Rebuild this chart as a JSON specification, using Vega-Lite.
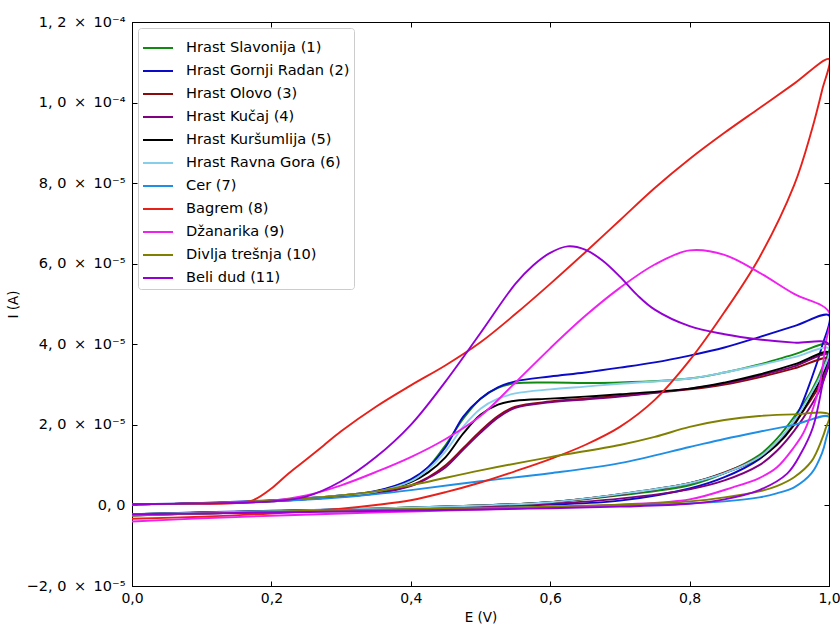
{
"$schema": "https://vega.github.io/schema/vega-lite/v6.json",
"width": 697,
"height": 564,
"autosize": {"type": "none"},
"padding": {"left": 132, "top": 22, "right": 11, "bottom": 40},
"background": "white",
"config": {
  "font": "DejaVu Sans",
  "view": {"stroke": "black", "strokeWidth": 1},
  "axis": {"grid": false, "domainColor": "black", "tickColor": "black", "labelColor": "black", "titleColor": "black", "labelFont": "DejaVu Sans", "titleFont": "DejaVu Sans", "labelFontSize": 14, "titleFontSize": 13.5, "titleFontWeight": "normal", "tickSize": -5, "tickWidth": 1, "domainWidth": 1},
  "legend": {"labelFont": "DejaVu Sans", "labelFontSize": 14.6, "labelColor": "black"}
},
"data": {"values": [
{"s":"Hrast Slavonija (1)","E":0,"I":0.03e-5,"k":0},{"s":"Hrast Slavonija (1)","E":0.1,"I":0.05e-5,"k":1},{"s":"Hrast Slavonija (1)","E":0.2,"I":0.12e-5,"k":2},{"s":"Hrast Slavonija (1)","E":0.3,"I":0.25e-5,"k":3},{"s":"Hrast Slavonija (1)","E":0.35,"I":0.35e-5,"k":4},{"s":"Hrast Slavonija (1)","E":0.4,"I":0.62e-5,"k":5},{"s":"Hrast Slavonija (1)","E":0.425,"I":0.95e-5,"k":6},{"s":"Hrast Slavonija (1)","E":0.45,"I":1.5e-5,"k":7},{"s":"Hrast Slavonija (1)","E":0.475,"I":2.15e-5,"k":8},{"s":"Hrast Slavonija (1)","E":0.5,"I":2.65e-5,"k":9},{"s":"Hrast Slavonija (1)","E":0.525,"I":2.92e-5,"k":10},{"s":"Hrast Slavonija (1)","E":0.55,"I":3.03e-5,"k":11},{"s":"Hrast Slavonija (1)","E":0.6,"I":3.05e-5,"k":12},{"s":"Hrast Slavonija (1)","E":0.65,"I":3.04e-5,"k":13},{"s":"Hrast Slavonija (1)","E":0.7,"I":3.05e-5,"k":14},{"s":"Hrast Slavonija (1)","E":0.8,"I":3.15e-5,"k":15},{"s":"Hrast Slavonija (1)","E":0.85,"I":3.3e-5,"k":16},{"s":"Hrast Slavonija (1)","E":0.9,"I":3.5e-5,"k":17},{"s":"Hrast Slavonija (1)","E":0.95,"I":3.75e-5,"k":18},{"s":"Hrast Slavonija (1)","E":1.0,"I":4.0e-5,"k":19},
{"s":"Hrast Slavonija (1)","E":0.99,"I":3.4e-5,"k":20},{"s":"Hrast Slavonija (1)","E":0.975,"I":2.85e-5,"k":21},{"s":"Hrast Slavonija (1)","E":0.95,"I":2.2e-5,"k":22},{"s":"Hrast Slavonija (1)","E":0.925,"I":1.65e-5,"k":23},{"s":"Hrast Slavonija (1)","E":0.9,"I":1.25e-5,"k":24},{"s":"Hrast Slavonija (1)","E":0.85,"I":0.8e-5,"k":25},{"s":"Hrast Slavonija (1)","E":0.8,"I":0.5e-5,"k":26},{"s":"Hrast Slavonija (1)","E":0.7,"I":0.25e-5,"k":27},{"s":"Hrast Slavonija (1)","E":0.6,"I":0.08e-5,"k":28},{"s":"Hrast Slavonija (1)","E":0.5,"I":0.0,"k":29},{"s":"Hrast Slavonija (1)","E":0.4,"I":-0.05e-5,"k":30},{"s":"Hrast Slavonija (1)","E":0.3,"I":-0.1e-5,"k":31},{"s":"Hrast Slavonija (1)","E":0.1,"I":-0.18e-5,"k":32},{"s":"Hrast Slavonija (1)","E":0,"I":-0.22e-5,"k":33},

{"s":"Hrast Gornji Radan (2)","E":0,"I":0.03e-5,"k":0},{"s":"Hrast Gornji Radan (2)","E":0.1,"I":0.06e-5,"k":1},{"s":"Hrast Gornji Radan (2)","E":0.2,"I":0.13e-5,"k":2},{"s":"Hrast Gornji Radan (2)","E":0.3,"I":0.25e-5,"k":3},{"s":"Hrast Gornji Radan (2)","E":0.35,"I":0.36e-5,"k":4},{"s":"Hrast Gornji Radan (2)","E":0.4,"I":0.65e-5,"k":5},{"s":"Hrast Gornji Radan (2)","E":0.425,"I":0.95e-5,"k":6},{"s":"Hrast Gornji Radan (2)","E":0.45,"I":1.45e-5,"k":7},{"s":"Hrast Gornji Radan (2)","E":0.475,"I":2.2e-5,"k":8},{"s":"Hrast Gornji Radan (2)","E":0.5,"I":2.65e-5,"k":9},{"s":"Hrast Gornji Radan (2)","E":0.525,"I":2.93e-5,"k":10},{"s":"Hrast Gornji Radan (2)","E":0.55,"I":3.08e-5,"k":11},{"s":"Hrast Gornji Radan (2)","E":0.6,"I":3.2e-5,"k":12},{"s":"Hrast Gornji Radan (2)","E":0.65,"I":3.3e-5,"k":13},{"s":"Hrast Gornji Radan (2)","E":0.7,"I":3.42e-5,"k":14},{"s":"Hrast Gornji Radan (2)","E":0.75,"I":3.55e-5,"k":15},{"s":"Hrast Gornji Radan (2)","E":0.8,"I":3.72e-5,"k":16},{"s":"Hrast Gornji Radan (2)","E":0.85,"I":3.92e-5,"k":17},{"s":"Hrast Gornji Radan (2)","E":0.9,"I":4.18e-5,"k":18},{"s":"Hrast Gornji Radan (2)","E":0.95,"I":4.45e-5,"k":19},{"s":"Hrast Gornji Radan (2)","E":1.0,"I":4.72e-5,"k":20},
{"s":"Hrast Gornji Radan (2)","E":0.99,"I":3.95e-5,"k":21},{"s":"Hrast Gornji Radan (2)","E":0.975,"I":3.15e-5,"k":22},{"s":"Hrast Gornji Radan (2)","E":0.95,"I":2.1e-5,"k":23},{"s":"Hrast Gornji Radan (2)","E":0.925,"I":1.55e-5,"k":24},{"s":"Hrast Gornji Radan (2)","E":0.9,"I":1.15e-5,"k":25},{"s":"Hrast Gornji Radan (2)","E":0.85,"I":0.7e-5,"k":26},{"s":"Hrast Gornji Radan (2)","E":0.8,"I":0.42e-5,"k":27},{"s":"Hrast Gornji Radan (2)","E":0.7,"I":0.12e-5,"k":28},{"s":"Hrast Gornji Radan (2)","E":0.6,"I":0.02e-5,"k":29},{"s":"Hrast Gornji Radan (2)","E":0.5,"I":-0.03e-5,"k":30},{"s":"Hrast Gornji Radan (2)","E":0.4,"I":-0.07e-5,"k":31},{"s":"Hrast Gornji Radan (2)","E":0.3,"I":-0.1e-5,"k":32},{"s":"Hrast Gornji Radan (2)","E":0.1,"I":-0.17e-5,"k":33},{"s":"Hrast Gornji Radan (2)","E":0,"I":-0.22e-5,"k":34},

{"s":"Hrast Olovo (3)","E":0,"I":0.03e-5,"k":0},{"s":"Hrast Olovo (3)","E":0.1,"I":0.05e-5,"k":1},{"s":"Hrast Olovo (3)","E":0.2,"I":0.1e-5,"k":2},{"s":"Hrast Olovo (3)","E":0.3,"I":0.22e-5,"k":3},{"s":"Hrast Olovo (3)","E":0.35,"I":0.3e-5,"k":4},{"s":"Hrast Olovo (3)","E":0.4,"I":0.5e-5,"k":5},{"s":"Hrast Olovo (3)","E":0.425,"I":0.7e-5,"k":6},{"s":"Hrast Olovo (3)","E":0.45,"I":1.0e-5,"k":7},{"s":"Hrast Olovo (3)","E":0.475,"I":1.42e-5,"k":8},{"s":"Hrast Olovo (3)","E":0.5,"I":1.85e-5,"k":9},{"s":"Hrast Olovo (3)","E":0.525,"I":2.22e-5,"k":10},{"s":"Hrast Olovo (3)","E":0.55,"I":2.45e-5,"k":11},{"s":"Hrast Olovo (3)","E":0.6,"I":2.58e-5,"k":12},{"s":"Hrast Olovo (3)","E":0.65,"I":2.65e-5,"k":13},{"s":"Hrast Olovo (3)","E":0.7,"I":2.72e-5,"k":14},{"s":"Hrast Olovo (3)","E":0.8,"I":2.88e-5,"k":15},{"s":"Hrast Olovo (3)","E":0.85,"I":3.0e-5,"k":16},{"s":"Hrast Olovo (3)","E":0.9,"I":3.18e-5,"k":17},{"s":"Hrast Olovo (3)","E":0.95,"I":3.4e-5,"k":18},{"s":"Hrast Olovo (3)","E":1.0,"I":3.65e-5,"k":19},
{"s":"Hrast Olovo (3)","E":0.99,"I":3.1e-5,"k":20},{"s":"Hrast Olovo (3)","E":0.975,"I":2.65e-5,"k":21},{"s":"Hrast Olovo (3)","E":0.95,"I":2.05e-5,"k":22},{"s":"Hrast Olovo (3)","E":0.925,"I":1.55e-5,"k":23},{"s":"Hrast Olovo (3)","E":0.9,"I":1.2e-5,"k":24},{"s":"Hrast Olovo (3)","E":0.85,"I":0.82e-5,"k":25},{"s":"Hrast Olovo (3)","E":0.8,"I":0.55e-5,"k":26},{"s":"Hrast Olovo (3)","E":0.7,"I":0.27e-5,"k":27},{"s":"Hrast Olovo (3)","E":0.6,"I":0.08e-5,"k":28},{"s":"Hrast Olovo (3)","E":0.5,"I":0.0,"k":29},{"s":"Hrast Olovo (3)","E":0.4,"I":-0.06e-5,"k":30},{"s":"Hrast Olovo (3)","E":0.3,"I":-0.12e-5,"k":31},{"s":"Hrast Olovo (3)","E":0.1,"I":-0.2e-5,"k":32},{"s":"Hrast Olovo (3)","E":0,"I":-0.25e-5,"k":33},

{"s":"Hrast Kučaj (4)","E":0,"I":0.03e-5,"k":0},{"s":"Hrast Kučaj (4)","E":0.1,"I":0.05e-5,"k":1},{"s":"Hrast Kučaj (4)","E":0.2,"I":0.1e-5,"k":2},{"s":"Hrast Kučaj (4)","E":0.3,"I":0.22e-5,"k":3},{"s":"Hrast Kučaj (4)","E":0.35,"I":0.3e-5,"k":4},{"s":"Hrast Kučaj (4)","E":0.4,"I":0.48e-5,"k":5},{"s":"Hrast Kučaj (4)","E":0.425,"I":0.68e-5,"k":6},{"s":"Hrast Kučaj (4)","E":0.45,"I":0.95e-5,"k":7},{"s":"Hrast Kučaj (4)","E":0.475,"I":1.38e-5,"k":8},{"s":"Hrast Kučaj (4)","E":0.5,"I":1.8e-5,"k":9},{"s":"Hrast Kučaj (4)","E":0.525,"I":2.18e-5,"k":10},{"s":"Hrast Kučaj (4)","E":0.55,"I":2.42e-5,"k":11},{"s":"Hrast Kučaj (4)","E":0.6,"I":2.56e-5,"k":12},{"s":"Hrast Kučaj (4)","E":0.65,"I":2.63e-5,"k":13},{"s":"Hrast Kučaj (4)","E":0.7,"I":2.7e-5,"k":14},{"s":"Hrast Kučaj (4)","E":0.8,"I":2.9e-5,"k":15},{"s":"Hrast Kučaj (4)","E":0.85,"I":3.03e-5,"k":16},{"s":"Hrast Kučaj (4)","E":0.9,"I":3.22e-5,"k":17},{"s":"Hrast Kučaj (4)","E":0.95,"I":3.45e-5,"k":18},{"s":"Hrast Kučaj (4)","E":1.0,"I":3.75e-5,"k":19},
{"s":"Hrast Kučaj (4)","E":0.99,"I":3.0e-5,"k":20},{"s":"Hrast Kučaj (4)","E":0.975,"I":2.5e-5,"k":21},{"s":"Hrast Kučaj (4)","E":0.95,"I":1.85e-5,"k":22},{"s":"Hrast Kučaj (4)","E":0.925,"I":1.35e-5,"k":23},{"s":"Hrast Kučaj (4)","E":0.9,"I":1.0e-5,"k":24},{"s":"Hrast Kučaj (4)","E":0.85,"I":0.62e-5,"k":25},{"s":"Hrast Kučaj (4)","E":0.8,"I":0.4e-5,"k":26},{"s":"Hrast Kučaj (4)","E":0.7,"I":0.17e-5,"k":27},{"s":"Hrast Kučaj (4)","E":0.6,"I":0.04e-5,"k":28},{"s":"Hrast Kučaj (4)","E":0.5,"I":-0.03e-5,"k":29},{"s":"Hrast Kučaj (4)","E":0.4,"I":-0.08e-5,"k":30},{"s":"Hrast Kučaj (4)","E":0.3,"I":-0.13e-5,"k":31},{"s":"Hrast Kučaj (4)","E":0.1,"I":-0.2e-5,"k":32},{"s":"Hrast Kučaj (4)","E":0,"I":-0.24e-5,"k":33},

{"s":"Hrast Kuršumlija (5)","E":0,"I":0.03e-5,"k":0},{"s":"Hrast Kuršumlija (5)","E":0.1,"I":0.05e-5,"k":1},{"s":"Hrast Kuršumlija (5)","E":0.2,"I":0.11e-5,"k":2},{"s":"Hrast Kuršumlija (5)","E":0.3,"I":0.24e-5,"k":3},{"s":"Hrast Kuršumlija (5)","E":0.35,"I":0.33e-5,"k":4},{"s":"Hrast Kuršumlija (5)","E":0.4,"I":0.58e-5,"k":5},{"s":"Hrast Kuršumlija (5)","E":0.425,"I":0.82e-5,"k":6},{"s":"Hrast Kuršumlija (5)","E":0.45,"I":1.2e-5,"k":7},{"s":"Hrast Kuršumlija (5)","E":0.475,"I":1.78e-5,"k":8},{"s":"Hrast Kuršumlija (5)","E":0.5,"I":2.25e-5,"k":9},{"s":"Hrast Kuršumlija (5)","E":0.525,"I":2.5e-5,"k":10},{"s":"Hrast Kuršumlija (5)","E":0.55,"I":2.6e-5,"k":11},{"s":"Hrast Kuršumlija (5)","E":0.6,"I":2.65e-5,"k":12},{"s":"Hrast Kuršumlija (5)","E":0.65,"I":2.7e-5,"k":13},{"s":"Hrast Kuršumlija (5)","E":0.7,"I":2.76e-5,"k":14},{"s":"Hrast Kuršumlija (5)","E":0.8,"I":2.9e-5,"k":15},{"s":"Hrast Kuršumlija (5)","E":0.85,"I":3.05e-5,"k":16},{"s":"Hrast Kuršumlija (5)","E":0.9,"I":3.25e-5,"k":17},{"s":"Hrast Kuršumlija (5)","E":0.95,"I":3.5e-5,"k":18},{"s":"Hrast Kuršumlija (5)","E":1.0,"I":3.8e-5,"k":19},
{"s":"Hrast Kuršumlija (5)","E":0.99,"I":3.2e-5,"k":20},{"s":"Hrast Kuršumlija (5)","E":0.975,"I":2.72e-5,"k":21},{"s":"Hrast Kuršumlija (5)","E":0.95,"I":2.0e-5,"k":22},{"s":"Hrast Kuršumlija (5)","E":0.925,"I":1.5e-5,"k":23},{"s":"Hrast Kuršumlija (5)","E":0.9,"I":1.17e-5,"k":24},{"s":"Hrast Kuršumlija (5)","E":0.85,"I":0.8e-5,"k":25},{"s":"Hrast Kuršumlija (5)","E":0.8,"I":0.55e-5,"k":26},{"s":"Hrast Kuršumlija (5)","E":0.7,"I":0.28e-5,"k":27},{"s":"Hrast Kuršumlija (5)","E":0.6,"I":0.08e-5,"k":28},{"s":"Hrast Kuršumlija (5)","E":0.5,"I":0.0,"k":29},{"s":"Hrast Kuršumlija (5)","E":0.4,"I":-0.05e-5,"k":30},{"s":"Hrast Kuršumlija (5)","E":0.3,"I":-0.1e-5,"k":31},{"s":"Hrast Kuršumlija (5)","E":0.1,"I":-0.18e-5,"k":32},{"s":"Hrast Kuršumlija (5)","E":0,"I":-0.22e-5,"k":33},

{"s":"Hrast Ravna Gora (6)","E":0,"I":0.03e-5,"k":0},{"s":"Hrast Ravna Gora (6)","E":0.1,"I":0.05e-5,"k":1},{"s":"Hrast Ravna Gora (6)","E":0.2,"I":0.12e-5,"k":2},{"s":"Hrast Ravna Gora (6)","E":0.3,"I":0.25e-5,"k":3},{"s":"Hrast Ravna Gora (6)","E":0.35,"I":0.34e-5,"k":4},{"s":"Hrast Ravna Gora (6)","E":0.4,"I":0.6e-5,"k":5},{"s":"Hrast Ravna Gora (6)","E":0.425,"I":0.9e-5,"k":6},{"s":"Hrast Ravna Gora (6)","E":0.45,"I":1.35e-5,"k":7},{"s":"Hrast Ravna Gora (6)","E":0.475,"I":1.95e-5,"k":8},{"s":"Hrast Ravna Gora (6)","E":0.5,"I":2.4e-5,"k":9},{"s":"Hrast Ravna Gora (6)","E":0.525,"I":2.65e-5,"k":10},{"s":"Hrast Ravna Gora (6)","E":0.55,"I":2.78e-5,"k":11},{"s":"Hrast Ravna Gora (6)","E":0.6,"I":2.88e-5,"k":12},{"s":"Hrast Ravna Gora (6)","E":0.65,"I":2.95e-5,"k":13},{"s":"Hrast Ravna Gora (6)","E":0.7,"I":3.02e-5,"k":14},{"s":"Hrast Ravna Gora (6)","E":0.8,"I":3.15e-5,"k":15},{"s":"Hrast Ravna Gora (6)","E":0.85,"I":3.3e-5,"k":16},{"s":"Hrast Ravna Gora (6)","E":0.9,"I":3.48e-5,"k":17},{"s":"Hrast Ravna Gora (6)","E":0.95,"I":3.68e-5,"k":18},{"s":"Hrast Ravna Gora (6)","E":1.0,"I":3.9e-5,"k":19},
{"s":"Hrast Ravna Gora (6)","E":0.99,"I":3.3e-5,"k":20},{"s":"Hrast Ravna Gora (6)","E":0.975,"I":2.8e-5,"k":21},{"s":"Hrast Ravna Gora (6)","E":0.95,"I":2.1e-5,"k":22},{"s":"Hrast Ravna Gora (6)","E":0.925,"I":1.57e-5,"k":23},{"s":"Hrast Ravna Gora (6)","E":0.9,"I":1.2e-5,"k":24},{"s":"Hrast Ravna Gora (6)","E":0.85,"I":0.8e-5,"k":25},{"s":"Hrast Ravna Gora (6)","E":0.8,"I":0.55e-5,"k":26},{"s":"Hrast Ravna Gora (6)","E":0.7,"I":0.28e-5,"k":27},{"s":"Hrast Ravna Gora (6)","E":0.6,"I":0.08e-5,"k":28},{"s":"Hrast Ravna Gora (6)","E":0.5,"I":0.0,"k":29},{"s":"Hrast Ravna Gora (6)","E":0.4,"I":-0.05e-5,"k":30},{"s":"Hrast Ravna Gora (6)","E":0.3,"I":-0.1e-5,"k":31},{"s":"Hrast Ravna Gora (6)","E":0.1,"I":-0.18e-5,"k":32},{"s":"Hrast Ravna Gora (6)","E":0,"I":-0.22e-5,"k":33},

{"s":"Cer (7)","E":0,"I":0.03e-5,"k":0},{"s":"Cer (7)","E":0.1,"I":0.05e-5,"k":1},{"s":"Cer (7)","E":0.2,"I":0.1e-5,"k":2},{"s":"Cer (7)","E":0.3,"I":0.2e-5,"k":3},{"s":"Cer (7)","E":0.35,"I":0.28e-5,"k":4},{"s":"Cer (7)","E":0.4,"I":0.38e-5,"k":5},{"s":"Cer (7)","E":0.5,"I":0.6e-5,"k":6},{"s":"Cer (7)","E":0.6,"I":0.8e-5,"k":7},{"s":"Cer (7)","E":0.7,"I":1.05e-5,"k":8},{"s":"Cer (7)","E":0.8,"I":1.45e-5,"k":9},{"s":"Cer (7)","E":0.85,"I":1.65e-5,"k":10},{"s":"Cer (7)","E":0.9,"I":1.83e-5,"k":11},{"s":"Cer (7)","E":0.95,"I":2.0e-5,"k":12},{"s":"Cer (7)","E":1.0,"I":2.2e-5,"k":13},
{"s":"Cer (7)","E":0.995,"I":1.6e-5,"k":14},{"s":"Cer (7)","E":0.99,"I":1.3e-5,"k":15},{"s":"Cer (7)","E":0.975,"I":0.8e-5,"k":16},{"s":"Cer (7)","E":0.95,"I":0.45e-5,"k":17},{"s":"Cer (7)","E":0.925,"I":0.3e-5,"k":18},{"s":"Cer (7)","E":0.9,"I":0.2e-5,"k":19},{"s":"Cer (7)","E":0.85,"I":0.1e-5,"k":20},{"s":"Cer (7)","E":0.8,"I":0.05e-5,"k":21},{"s":"Cer (7)","E":0.7,"I":0.0,"k":22},{"s":"Cer (7)","E":0.6,"I":-0.04e-5,"k":23},{"s":"Cer (7)","E":0.5,"I":-0.07e-5,"k":24},{"s":"Cer (7)","E":0.3,"I":-0.12e-5,"k":25},{"s":"Cer (7)","E":0.1,"I":-0.2e-5,"k":26},{"s":"Cer (7)","E":0,"I":-0.25e-5,"k":27},

{"s":"Bagrem (8)","E":0,"I":0.03e-5,"k":0},{"s":"Bagrem (8)","E":0.1,"I":0.04e-5,"k":1},{"s":"Bagrem (8)","E":0.15,"I":0.06e-5,"k":2},{"s":"Bagrem (8)","E":0.175,"I":0.14e-5,"k":3},{"s":"Bagrem (8)","E":0.2,"I":0.42e-5,"k":4},{"s":"Bagrem (8)","E":0.225,"I":0.8e-5,"k":5},{"s":"Bagrem (8)","E":0.25,"I":1.14e-5,"k":6},{"s":"Bagrem (8)","E":0.275,"I":1.49e-5,"k":7},{"s":"Bagrem (8)","E":0.3,"I":1.84e-5,"k":8},{"s":"Bagrem (8)","E":0.35,"I":2.45e-5,"k":9},{"s":"Bagrem (8)","E":0.4,"I":2.98e-5,"k":10},{"s":"Bagrem (8)","E":0.45,"I":3.48e-5,"k":11},{"s":"Bagrem (8)","E":0.5,"I":4.05e-5,"k":12},{"s":"Bagrem (8)","E":0.55,"I":4.75e-5,"k":13},{"s":"Bagrem (8)","E":0.6,"I":5.5e-5,"k":14},{"s":"Bagrem (8)","E":0.65,"I":6.28e-5,"k":15},{"s":"Bagrem (8)","E":0.7,"I":7.08e-5,"k":16},{"s":"Bagrem (8)","E":0.75,"I":7.88e-5,"k":17},{"s":"Bagrem (8)","E":0.8,"I":8.6e-5,"k":18},{"s":"Bagrem (8)","E":0.85,"I":9.25e-5,"k":19},{"s":"Bagrem (8)","E":0.9,"I":9.86e-5,"k":20},{"s":"Bagrem (8)","E":0.95,"I":10.47e-5,"k":21},{"s":"Bagrem (8)","E":1.0,"I":11.08e-5,"k":22},
{"s":"Bagrem (8)","E":0.99,"I":10.3e-5,"k":23},{"s":"Bagrem (8)","E":0.975,"I":9.3e-5,"k":24},{"s":"Bagrem (8)","E":0.95,"I":7.95e-5,"k":25},{"s":"Bagrem (8)","E":0.9,"I":6.15e-5,"k":26},{"s":"Bagrem (8)","E":0.85,"I":4.8e-5,"k":27},{"s":"Bagrem (8)","E":0.8,"I":3.6e-5,"k":28},{"s":"Bagrem (8)","E":0.75,"I":2.62e-5,"k":29},{"s":"Bagrem (8)","E":0.7,"I":1.95e-5,"k":30},{"s":"Bagrem (8)","E":0.65,"I":1.5e-5,"k":31},{"s":"Bagrem (8)","E":0.6,"I":1.15e-5,"k":32},{"s":"Bagrem (8)","E":0.55,"I":0.85e-5,"k":33},{"s":"Bagrem (8)","E":0.5,"I":0.57e-5,"k":34},{"s":"Bagrem (8)","E":0.45,"I":0.33e-5,"k":35},{"s":"Bagrem (8)","E":0.4,"I":0.13e-5,"k":36},{"s":"Bagrem (8)","E":0.35,"I":0.01e-5,"k":37},{"s":"Bagrem (8)","E":0.3,"I":-0.08e-5,"k":38},{"s":"Bagrem (8)","E":0.2,"I":-0.2e-5,"k":39},{"s":"Bagrem (8)","E":0.1,"I":-0.28e-5,"k":40},{"s":"Bagrem (8)","E":0,"I":-0.33e-5,"k":41},

{"s":"Džanarika (9)","E":0,"I":0.03e-5,"k":0},{"s":"Džanarika (9)","E":0.1,"I":0.05e-5,"k":1},{"s":"Džanarika (9)","E":0.2,"I":0.12e-5,"k":2},{"s":"Džanarika (9)","E":0.25,"I":0.25e-5,"k":3},{"s":"Džanarika (9)","E":0.3,"I":0.5e-5,"k":4},{"s":"Džanarika (9)","E":0.35,"I":0.83e-5,"k":5},{"s":"Džanarika (9)","E":0.4,"I":1.2e-5,"k":6},{"s":"Džanarika (9)","E":0.45,"I":1.65e-5,"k":7},{"s":"Džanarika (9)","E":0.5,"I":2.22e-5,"k":8},{"s":"Džanarika (9)","E":0.55,"I":3.05e-5,"k":9},{"s":"Džanarika (9)","E":0.6,"I":3.9e-5,"k":10},{"s":"Džanarika (9)","E":0.65,"I":4.7e-5,"k":11},{"s":"Džanarika (9)","E":0.7,"I":5.4e-5,"k":12},{"s":"Džanarika (9)","E":0.75,"I":5.98e-5,"k":13},{"s":"Džanarika (9)","E":0.8,"I":6.33e-5,"k":14},{"s":"Džanarika (9)","E":0.85,"I":6.22e-5,"k":15},{"s":"Džanarika (9)","E":0.9,"I":5.78e-5,"k":16},{"s":"Džanarika (9)","E":0.95,"I":5.25e-5,"k":17},{"s":"Džanarika (9)","E":1.0,"I":4.8e-5,"k":18},
{"s":"Džanarika (9)","E":0.995,"I":4.0e-5,"k":19},{"s":"Džanarika (9)","E":0.987,"I":3.03e-5,"k":20},{"s":"Džanarika (9)","E":0.975,"I":2.3e-5,"k":21},{"s":"Džanarika (9)","E":0.963,"I":1.79e-5,"k":22},{"s":"Džanarika (9)","E":0.95,"I":1.45e-5,"k":23},{"s":"Džanarika (9)","E":0.925,"I":0.94e-5,"k":24},{"s":"Džanarika (9)","E":0.9,"I":0.68e-5,"k":25},{"s":"Džanarika (9)","E":0.862,"I":0.45e-5,"k":26},{"s":"Džanarika (9)","E":0.8,"I":0.15e-5,"k":27},{"s":"Džanarika (9)","E":0.7,"I":0.02e-5,"k":28},{"s":"Džanarika (9)","E":0.6,"I":-0.05e-5,"k":29},{"s":"Džanarika (9)","E":0.5,"I":-0.1e-5,"k":30},{"s":"Džanarika (9)","E":0.4,"I":-0.15e-5,"k":31},{"s":"Džanarika (9)","E":0.3,"I":-0.2e-5,"k":32},{"s":"Džanarika (9)","E":0.1,"I":-0.32e-5,"k":33},{"s":"Džanarika (9)","E":0,"I":-0.4e-5,"k":34},

{"s":"Divlja trešnja (10)","E":0,"I":0.03e-5,"k":0},{"s":"Divlja trešnja (10)","E":0.1,"I":0.05e-5,"k":1},{"s":"Divlja trešnja (10)","E":0.2,"I":0.12e-5,"k":2},{"s":"Divlja trešnja (10)","E":0.3,"I":0.25e-5,"k":3},{"s":"Divlja trešnja (10)","E":0.35,"I":0.35e-5,"k":4},{"s":"Divlja trešnja (10)","E":0.4,"I":0.5e-5,"k":5},{"s":"Divlja trešnja (10)","E":0.5,"I":0.87e-5,"k":6},{"s":"Divlja trešnja (10)","E":0.6,"I":1.2e-5,"k":7},{"s":"Divlja trešnja (10)","E":0.7,"I":1.5e-5,"k":8},{"s":"Divlja trešnja (10)","E":0.75,"I":1.7e-5,"k":9},{"s":"Divlja trešnja (10)","E":0.8,"I":1.95e-5,"k":10},{"s":"Divlja trešnja (10)","E":0.85,"I":2.12e-5,"k":11},{"s":"Divlja trešnja (10)","E":0.9,"I":2.22e-5,"k":12},{"s":"Divlja trešnja (10)","E":0.95,"I":2.26e-5,"k":13},{"s":"Divlja trešnja (10)","E":1.0,"I":2.26e-5,"k":14},
{"s":"Divlja trešnja (10)","E":0.995,"I":1.9e-5,"k":15},{"s":"Divlja trešnja (10)","E":0.99,"I":1.65e-5,"k":16},{"s":"Divlja trešnja (10)","E":0.975,"I":1.1e-5,"k":17},{"s":"Divlja trešnja (10)","E":0.95,"I":0.7e-5,"k":18},{"s":"Divlja trešnja (10)","E":0.925,"I":0.48e-5,"k":19},{"s":"Divlja trešnja (10)","E":0.9,"I":0.35e-5,"k":20},{"s":"Divlja trešnja (10)","E":0.85,"I":0.2e-5,"k":21},{"s":"Divlja trešnja (10)","E":0.8,"I":0.1e-5,"k":22},{"s":"Divlja trešnja (10)","E":0.7,"I":0.02e-5,"k":23},{"s":"Divlja trešnja (10)","E":0.6,"I":-0.03e-5,"k":24},{"s":"Divlja trešnja (10)","E":0.5,"I":-0.06e-5,"k":25},{"s":"Divlja trešnja (10)","E":0.3,"I":-0.12e-5,"k":26},{"s":"Divlja trešnja (10)","E":0.1,"I":-0.2e-5,"k":27},{"s":"Divlja trešnja (10)","E":0,"I":-0.25e-5,"k":28},

{"s":"Beli dud (11)","E":0,"I":0.03e-5,"k":0},{"s":"Beli dud (11)","E":0.1,"I":0.05e-5,"k":1},{"s":"Beli dud (11)","E":0.2,"I":0.1e-5,"k":2},{"s":"Beli dud (11)","E":0.25,"I":0.22e-5,"k":3},{"s":"Beli dud (11)","E":0.3,"I":0.6e-5,"k":4},{"s":"Beli dud (11)","E":0.35,"I":1.2e-5,"k":5},{"s":"Beli dud (11)","E":0.4,"I":2.0e-5,"k":6},{"s":"Beli dud (11)","E":0.45,"I":3.08e-5,"k":7},{"s":"Beli dud (11)","E":0.5,"I":4.28e-5,"k":8},{"s":"Beli dud (11)","E":0.55,"I":5.5e-5,"k":9},{"s":"Beli dud (11)","E":0.575,"I":5.95e-5,"k":10},{"s":"Beli dud (11)","E":0.6,"I":6.27e-5,"k":11},{"s":"Beli dud (11)","E":0.625,"I":6.43e-5,"k":12},{"s":"Beli dud (11)","E":0.65,"I":6.35e-5,"k":13},{"s":"Beli dud (11)","E":0.675,"I":6.08e-5,"k":14},{"s":"Beli dud (11)","E":0.7,"I":5.68e-5,"k":15},{"s":"Beli dud (11)","E":0.725,"I":5.22e-5,"k":16},{"s":"Beli dud (11)","E":0.75,"I":4.86e-5,"k":17},{"s":"Beli dud (11)","E":0.8,"I":4.45e-5,"k":18},{"s":"Beli dud (11)","E":0.85,"I":4.25e-5,"k":19},{"s":"Beli dud (11)","E":0.9,"I":4.12e-5,"k":20},{"s":"Beli dud (11)","E":0.95,"I":4.04e-5,"k":21},{"s":"Beli dud (11)","E":1.0,"I":4.0e-5,"k":22},
{"s":"Beli dud (11)","E":0.99,"I":2.95e-5,"k":23},{"s":"Beli dud (11)","E":0.977,"I":1.94e-5,"k":24},{"s":"Beli dud (11)","E":0.96,"I":1.3e-5,"k":25},{"s":"Beli dud (11)","E":0.94,"I":0.79e-5,"k":26},{"s":"Beli dud (11)","E":0.9,"I":0.38e-5,"k":27},{"s":"Beli dud (11)","E":0.85,"I":0.15e-5,"k":28},{"s":"Beli dud (11)","E":0.8,"I":0.04e-5,"k":29},{"s":"Beli dud (11)","E":0.7,"I":-0.03e-5,"k":30},{"s":"Beli dud (11)","E":0.6,"I":-0.07e-5,"k":31},{"s":"Beli dud (11)","E":0.5,"I":-0.1e-5,"k":32},{"s":"Beli dud (11)","E":0.3,"I":-0.15e-5,"k":33},{"s":"Beli dud (11)","E":0.1,"I":-0.2e-5,"k":34},{"s":"Beli dud (11)","E":0,"I":-0.22e-5,"k":35}
]},
"layer": [
  {
    "mark": {"type": "line", "interpolate": "catmull-rom", "strokeWidth": 1.9, "clip": true},
    "encoding": {
      "x": {"field": "E", "type": "quantitative", "scale": {"domain": [0, 1], "nice": false, "zero": false},
            "axis": {"title": "E (V)", "values": [0, 0.2, 0.4, 0.6, 0.8, 1.0], "labelExpr": "replace(format(datum.value, '.1f'), '.', ',')", "labelPadding": 10, "titlePadding": 5, "labelFlush": false}},
      "y": {"field": "I", "type": "quantitative", "scale": {"domain": [-2e-5, 1.2e-4], "nice": false, "zero": false},
            "axis": {"title": "I (A)", "values": [-2e-5, 0, 2e-5, 4e-5, 6e-5, 8e-5, 1e-4, 1.2e-4], "labelFontSize": 14.5, "labelExpr": "round(datum.value*1e6) == 0 ? '0, 0' : round(datum.value*1e6) == -20 ? '−2, 0 \u2009×\u2009 10⁻⁵' : round(datum.value*1e6) == 20 ? '2, 0 \u2009×\u2009 10⁻⁵' : round(datum.value*1e6) == 40 ? '4, 0 \u2009×\u2009 10⁻⁵' : round(datum.value*1e6) == 60 ? '6, 0 \u2009×\u2009 10⁻⁵' : round(datum.value*1e6) == 80 ? '8, 0 \u2009×\u2009 10⁻⁵' : round(datum.value*1e6) == 100 ? '1, 0 \u2009×\u2009 10⁻⁴' : '1, 2 \u2009×\u2009 10⁻⁴'", "labelPadding": 12, "titlePadding": 6, "labelFlush": false}},
      "color": {"field": "s", "type": "nominal",
        "scale": {"domain": ["Hrast Slavonija (1)", "Hrast Gornji Radan (2)", "Hrast Olovo (3)", "Hrast Kučaj (4)", "Hrast Kuršumlija (5)", "Hrast Ravna Gora (6)", "Cer (7)", "Bagrem (8)", "Džanarika (9)", "Divlja trešnja (10)", "Beli dud (11)"],
                  "range": ["#118a11", "#0a0ac8", "#8b0a0a", "#800080", "#000000", "#87ceeb", "#1f8fe6", "#e8201a", "#f020f0", "#808000", "#9400d3"]},
        "legend": {"title": null, "orient": "top-left", "offset": 6, "symbolType": "stroke", "symbolStrokeWidth": 2, "symbolSize": 900, "labelOffset": 12, "labelLimit": 400, "padding": 4, "rowPadding": 0, "fillColor": "white", "strokeColor": "#cccccc", "cornerRadius": 3}},
      "order": {"field": "k", "type": "quantitative"}
    }
  },
  {
    "mark": {"type": "line", "opacity": 0},
    "encoding": {
      "x": {"field": "E", "type": "quantitative", "axis": {"orient": "top", "labels": false, "title": null, "values": [0, 0.2, 0.4, 0.6, 0.8, 1.0]}},
      "y": {"field": "I", "type": "quantitative", "axis": {"orient": "right", "labels": false, "title": null, "values": [-2e-5, 0, 2e-5, 4e-5, 6e-5, 8e-5, 1e-4, 1.2e-4]}},
      "detail": {"field": "s"},
      "order": {"field": "k", "type": "quantitative"}
    }
  }
],
"resolve": {"axis": {"x": "independent", "y": "independent"}}
}
